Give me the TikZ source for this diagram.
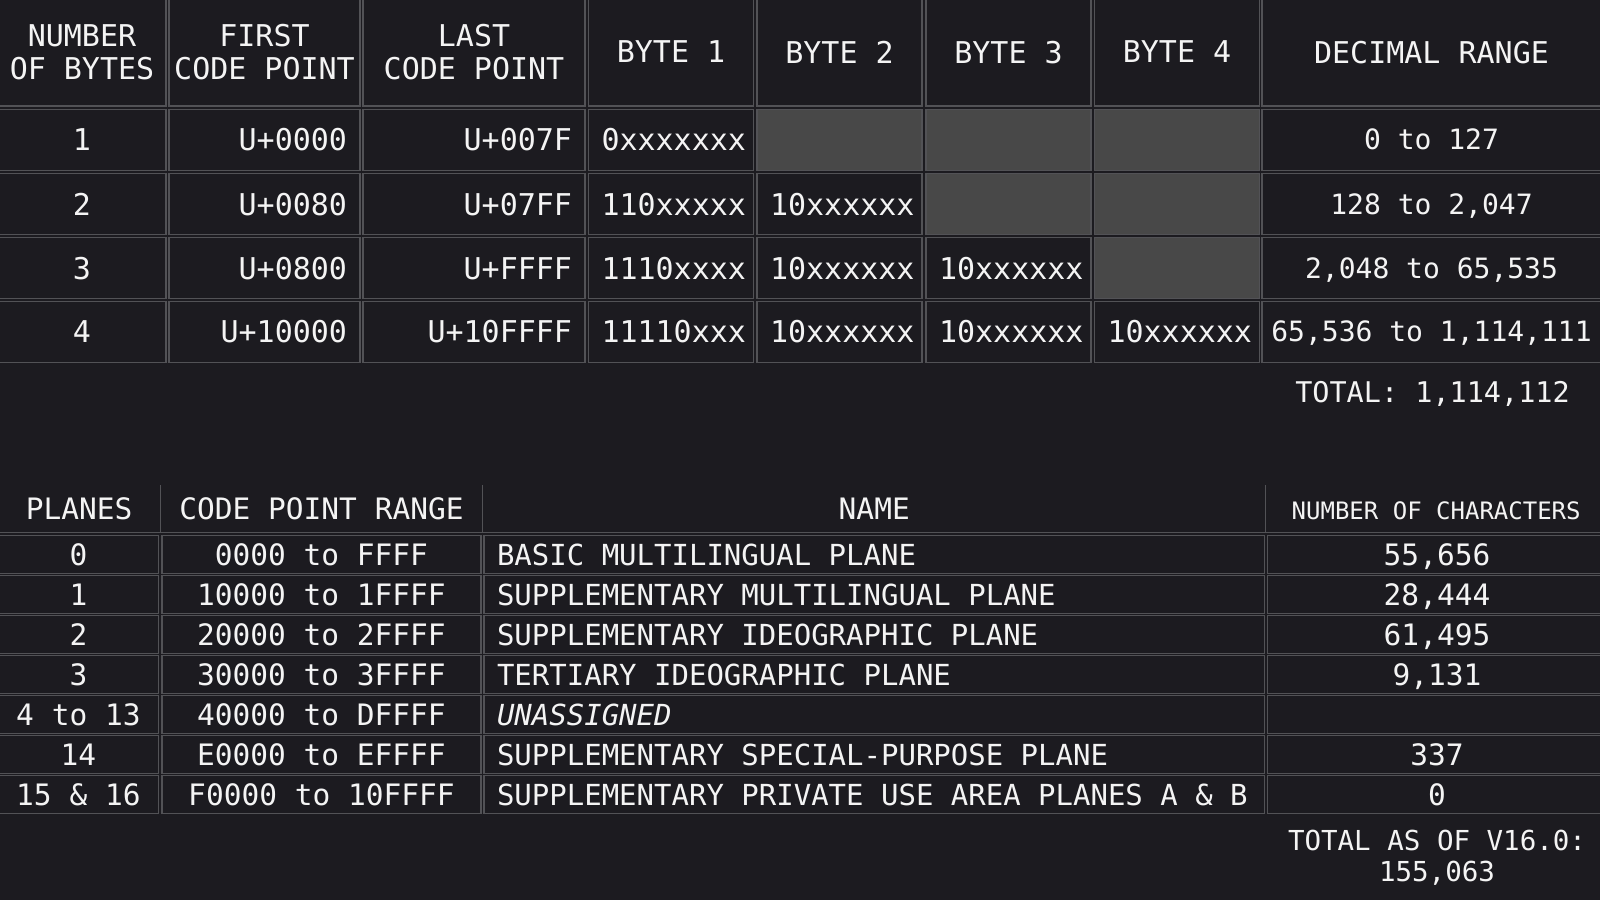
\documentclass[tikz,border=0pt]{standalone}
\usepackage{fontspec}
\newfontfamily\monofont{DejaVu Sans Mono}[WordSpace={1,0,0}]
\definecolor{bg}{RGB}{28,27,32}
\definecolor{gridgray}{RGB}{82,82,86}
\definecolor{blankgray}{RGB}{72,72,72}
\definecolor{fg}{RGB}{244,244,244}
\begin{document}
\begin{tikzpicture}[x=1pt, y=-1pt]
    \tikzstyle{box}=[draw=gridgray, line width=1.3pt, fill=bg, text=fg, inner xsep=4pt, inner ysep=0pt, outer sep=0pt]
    \tikzstyle{head}=[box, align=center, minimum height=108pt, text depth=0pt, font=\monofont\fontsize{30}{33.7}\selectfont]
    \tikzstyle{cell}=[box, minimum height=61pt, text height=21.9pt, text depth=0pt, font=\monofont\fontsize{30}{34}\selectfont]
    \tikzstyle{nbytes}=[cell, minimum width=168pt]
    \tikzstyle{firstcp}=[cell, text width=165pt, align=flush right, inner xsep=13pt]
    \tikzstyle{lastcp}=[cell, text width=196pt, align=flush right, inner xsep=13pt]
    \tikzstyle{byte}=[cell, text width=139pt, align=flush left, inner xsep=13pt]
    \tikzstyle{blank}=[box, fill=blankgray, minimum width=165pt, minimum height=61pt]
    \tikzstyle{decrange}=[cell, minimum width=339pt, text height=20.4pt, font=\monofont\fontsize{28}{32}\selectfont]
    \tikzstyle{phead}=[text=fg, inner sep=0pt, outer sep=0pt, minimum height=47.3pt, text height=21.5pt, text depth=0pt, font=\monofont\fontsize{29.5}{33}\selectfont]
    \tikzstyle{pcell}=[box, minimum height=37.8pt, text height=21.5pt, text depth=0pt, font=\monofont\fontsize{29.5}{33}\selectfont]
    \tikzstyle{plane}=[pcell, minimum width=160.8pt]
    \tikzstyle{cprange}=[pcell, minimum width=319.1pt]
    \tikzstyle{pname}=[pcell, text width=754.3pt, align=flush left, inner xsep=13pt, font=\monofont\fontsize{29}{33}\selectfont]
    \tikzstyle{nchars}=[pcell, minimum width=339pt]
    \tikzstyle{gridline}=[draw=gridgray, line width=1.3pt]
    \tikzstyle{total}=[text=fg, inner sep=0pt, align=center, text depth=0pt]

    \path[use as bounding box, fill=bg] (0,0) rectangle (1600,900);

    % UTF-8 byte layout
    \node[head, minimum width=168pt] (U-0-0) at (82,52) {NUMBER\\OF BYTES};
    \node[head, minimum width=191pt] (U-0-1) at (264.5,52) {FIRST\\CODE POINT};
    \node[head, minimum width=222pt] (U-0-2) at (474,52) {LAST\\CODE POINT};
    \node[head, minimum width=165pt] (U-0-3) at (671,52) {BYTE 1};
    \node[head, minimum width=165pt] (U-0-4) at (839.5,52) {BYTE 2};
    \node[head, minimum width=165pt] (U-0-5) at (1008.5,52) {BYTE 3};
    \node[head, minimum width=165pt] (U-0-6) at (1177,52) {BYTE 4};
    \node[head, minimum width=339pt] (U-0-7) at (1431.5,52) {DECIMAL RANGE};

    \node[nbytes] (U-1-0) at (82,139.75) {1};
    \node[firstcp] (U-1-1) at (264.5,139.75) {U+0000};
    \node[lastcp] (U-1-2) at (474,139.75) {U+007F};
    \node[byte] (U-1-3) at (671,139.75) {0xxxxxxx};
    \node[blank] (U-1-4) at (839.5,139.75) {};
    \node[blank] (U-1-5) at (1008.5,139.75) {};
    \node[blank] (U-1-6) at (1177,139.75) {};
    \node[decrange] (U-1-7) at (1431.5,139.75) {0 to 127};

    \node[nbytes] (U-2-0) at (82,204.25) {2};
    \node[firstcp] (U-2-1) at (264.5,204.25) {U+0080};
    \node[lastcp] (U-2-2) at (474,204.25) {U+07FF};
    \node[byte] (U-2-3) at (671,204.25) {110xxxxx};
    \node[byte] (U-2-4) at (839.5,204.25) {10xxxxxx};
    \node[blank] (U-2-5) at (1008.5,204.25) {};
    \node[blank] (U-2-6) at (1177,204.25) {};
    \node[decrange] (U-2-7) at (1431.5,204.25) {128 to 2,047};

    \node[nbytes] (U-3-0) at (82,268.25) {3};
    \node[firstcp] (U-3-1) at (264.5,268.25) {U+0800};
    \node[lastcp] (U-3-2) at (474,268.25) {U+FFFF};
    \node[byte] (U-3-3) at (671,268.25) {1110xxxx};
    \node[byte] (U-3-4) at (839.5,268.25) {10xxxxxx};
    \node[byte] (U-3-5) at (1008.5,268.25) {10xxxxxx};
    \node[blank] (U-3-6) at (1177,268.25) {};
    \node[decrange] (U-3-7) at (1431.5,268.25) {2,048 to 65,535};

    \node[nbytes] (U-4-0) at (82,331.75) {4};
    \node[firstcp] (U-4-1) at (264.5,331.75) {U+10000};
    \node[lastcp] (U-4-2) at (474,331.75) {U+10FFFF};
    \node[byte] (U-4-3) at (671,331.75) {11110xxx};
    \node[byte] (U-4-4) at (839.5,331.75) {10xxxxxx};
    \node[byte] (U-4-5) at (1008.5,331.75) {10xxxxxx};
    \node[byte] (U-4-6) at (1177,331.75) {10xxxxxx};
    \node[decrange] (U-4-7) at (1431.5,331.75) {65,536 to 1,114,111};

    \node[total, text height=20.8pt, font=\monofont\fontsize{28.5}{32}\selectfont] (U-tot) at (1432.5,391.7) {TOTAL: 1,114,112};

    % Unicode planes
    \node[phead, minimum width=162.3pt] (P-h-0) at (79.15,508.65) {PLANES};
    \node[phead, minimum width=322.4pt] (P-h-1) at (321.5,508.65) {CODE POINT RANGE};
    \node[phead, minimum width=783.1pt] (P-h-2) at (874.25,508.65) {NAME};
    \node[phead, minimum width=340.7pt, font=\monofont\fontsize{24}{28}\selectfont] (P-h-3) at (1436.15,508.65) {NUMBER OF CHARACTERS};
    \draw[gridline] (P-h-1.north west) -- (P-h-1.south west);
    \draw[gridline] (P-h-2.north west) -- (P-h-2.south west);
    \draw[gridline] (P-h-3.north west) -- (P-h-3.south west);
    \draw[gridline] (P-h-0.south west) -- (P-h-3.south east);

    \node[plane] (P-0-0) at (78.4,554.4) {0};
    \node[cprange] (P-0-1) at (321.45,554.4) {0000 to FFFF};
    \node[pname] (P-0-2) at (874.15,554.4) {BASIC MULTILINGUAL PLANE};
    \node[nchars] (P-0-3) at (1437,554.4) {55,656};

    \node[plane] (P-1-0) at (78.4,594.4) {1};
    \node[cprange] (P-1-1) at (321.45,594.4) {10000 to 1FFFF};
    \node[pname] (P-1-2) at (874.15,594.4) {SUPPLEMENTARY MULTILINGUAL PLANE};
    \node[nchars] (P-1-3) at (1437,594.4) {28,444};

    \node[plane] (P-2-0) at (78.4,634.4) {2};
    \node[cprange] (P-2-1) at (321.45,634.4) {20000 to 2FFFF};
    \node[pname] (P-2-2) at (874.15,634.4) {SUPPLEMENTARY IDEOGRAPHIC PLANE};
    \node[nchars] (P-2-3) at (1437,634.4) {61,495};

    \node[plane] (P-3-0) at (78.4,674.4) {3};
    \node[cprange] (P-3-1) at (321.45,674.4) {30000 to 3FFFF};
    \node[pname] (P-3-2) at (874.15,674.4) {TERTIARY IDEOGRAPHIC PLANE};
    \node[nchars] (P-3-3) at (1437,674.4) {9,131};

    \node[plane] (P-4-0) at (78.4,714.4) {4 to 13};
    \node[cprange] (P-4-1) at (321.45,714.4) {40000 to DFFFF};
    \node[pname] (P-4-2) at (874.15,714.4) {\itshape UNASSIGNED};
    \node[nchars] (P-4-3) at (1437,714.4) {};

    \node[plane] (P-5-0) at (78.4,754.4) {14};
    \node[cprange] (P-5-1) at (321.45,754.4) {E0000 to EFFFF};
    \node[pname] (P-5-2) at (874.15,754.4) {SUPPLEMENTARY SPECIAL-PURPOSE PLANE};
    \node[nchars] (P-5-3) at (1437,754.4) {337};

    \node[plane] (P-6-0) at (78.4,794.4) {15 \& 16};
    \node[cprange] (P-6-1) at (321.45,794.4) {F0000 to 10FFFF};
    \node[pname] (P-6-2) at (874.15,794.4) {SUPPLEMENTARY PRIVATE USE AREA PLANES A \& B};
    \node[nchars] (P-6-3) at (1437,794.4) {0};

    \node[total, font=\monofont\fontsize{27.5}{31.7}\selectfont] (P-tot) at (1437,855.7) {TOTAL AS OF V16.0:\\155,063};
\end{tikzpicture}
\end{document}
